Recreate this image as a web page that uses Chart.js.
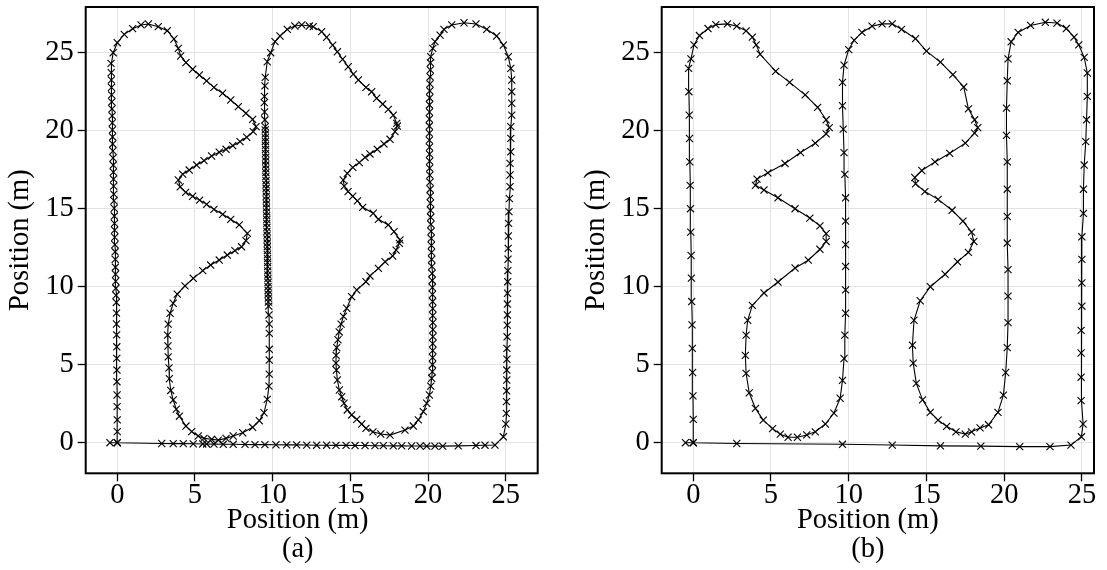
<!DOCTYPE html>
<html lang="en">
<head>
	<title>Trajectory (a) / (b)</title>
	<meta charset="utf-8">
	<script src="https://cdn.jsdelivr.net/npm/chart.js@4.4.0/dist/chart.umd.min.js"></script>
	<style type="text/css">
		body { margin: 0; background: #fff; }
		.panel { position: absolute; top: 0; height: 570px; }
		#panel-a { left: 0; width: 553px; }
		#panel-b { left: 576px; width: 531px; }
	</style>
</head>
<body>
<div class="panel" id="panel-a"><canvas id="chart-a"></canvas></div>
<div class="panel" id="panel-b"><canvas id="chart-b"></canvas></div>
<script type="text/javascript">
	// tick labels
	var xTicks = [0, 5, 10, 15, 20, 25];
	var yTicks = [0, 5, 10, 15, 20, 25];

	// (a) dense trajectory, in travel order
	var trackAX = [
		-0.47, 0.00, 0.00, 0.00, -0.01, -0.01, -0.02, -0.02, -0.03, -0.03, -0.04, -0.05, -0.05, -0.06,
		-0.08, -0.09, -0.10, -0.11, -0.12, -0.13, -0.14, -0.15, -0.16, -0.17, -0.18, -0.19, -0.20, -0.21, -0.22, -0.23, -0.24,
		-0.25, -0.26, -0.27, -0.28, -0.29, -0.30, -0.31, -0.32, -0.33, -0.34, -0.35, -0.36, -0.37, -0.38, -0.39, -0.40,
		-0.26, 0.00, 0.45, 0.99, 1.53, 2.00, 2.64, 3.22, 3.65, 3.93, 4.08, 4.42, 4.85, 5.28, 5.75, 6.22, 6.78, 7.30, 7.79, 8.28,
		8.71, 8.93, 8.75, 8.33, 7.90, 7.43, 7.00, 6.56, 6.07, 5.58, 5.11, 4.63, 4.21, 3.93,
		4.05, 4.40, 4.85, 5.30, 5.75, 6.22, 6.78, 7.30, 7.85, 8.37, 8.28, 8.00, 7.57, 7.08, 6.56, 6.01, 5.50, 4.89, 4.36, 3.86,
		3.60, 3.40, 3.28, 3.24, 3.26, 3.28, 3.33, 3.35, 3.44, 3.60, 3.80, 4.00, 4.42, 4.79, 5.21, 5.58, 6.07, 6.50, 7.00, 7.46,
		8.07, 8.71, 9.14, 9.44, 9.65, 9.76, 9.78, 9.78, 9.78, 9.78, 9.78, 9.76, 9.74,
		9.72, 9.72, 9.71, 9.71, 9.70, 9.70, 9.69, 9.69, 9.68, 9.68, 9.67, 9.67, 9.66, 9.66, 9.65, 9.65, 9.64, 9.64, 9.63, 9.63,
		9.62, 9.62, 9.61, 9.61, 9.60, 9.60, 9.59, 9.59, 9.58, 9.58, 9.57, 9.57, 9.56, 9.56, 9.56, 9.55, 9.55, 9.55, 9.54, 9.54,
		9.54, 9.53, 9.53, 9.53, 9.52, 9.52,
		9.50, 9.48, 9.46, 9.47, 9.50, 9.52, 9.65, 9.87, 10.15, 10.47, 10.94, 11.43, 11.87, 12.36, 12.61, 13.15, 13.47, 13.86, 14.16, 14.50,
		14.86, 15.19, 15.51, 16.00, 16.37, 16.69, 17.08, 17.44, 17.76, 17.98, 18.02, 17.87, 17.55, 17.16, 16.73, 16.26, 15.94, 15.57, 15.15, 14.80,
		14.54, 14.60, 14.85, 15.15, 15.45, 15.79, 16.47, 16.80, 17.44, 17.81, 18.19, 18.15, 17.94, 17.72, 17.23, 16.80, 16.26, 16.00, 15.41, 15.08,
		14.76, 14.55, 14.40, 14.28, 14.20, 14.12, 14.08, 14.07, 14.10, 14.16, 14.29, 14.44, 14.59, 14.80, 15.08, 15.41, 15.73, 16.00, 16.45, 16.95,
		17.55, 18.51, 19.05, 19.37, 19.69, 19.91, 20.08, 20.17, 20.23,
		20.27, 20.28, 20.29, 20.30, 20.30, 20.31, 20.31, 20.31, 20.30, 20.30, 20.29, 20.28, 20.27, 20.26, 20.25, 20.24, 20.23, 20.22, 20.21, 20.20,
		20.19, 20.18, 20.17, 20.16, 20.15, 20.14, 20.13, 20.12, 20.11, 20.10, 20.10, 20.09, 20.09, 20.08, 20.08, 20.08, 20.08, 20.09, 20.09, 20.10,
		20.11, 20.12, 20.13, 20.14, 20.15,
		20.17, 20.30, 20.44, 20.77, 21.02, 21.52, 22.31, 23.08, 23.77, 24.41, 24.84, 25.16, 25.32, 25.38, 25.38, 25.38, 25.38, 25.32, 25.32, 25.32,
		25.27, 25.27, 25.27, 25.23, 25.20, 25.18, 25.16, 25.15, 25.14, 25.13, 25.12, 25.11, 25.10, 25.10, 25.09, 25.08, 25.07, 25.07, 25.06, 25.06,
		25.05, 25.04, 25.03, 25.00, 24.84, 24.30, 23.66, 23.08,
		21.94, 20.94, 20.44, 19.91, 19.48, 18.94, 18.30, 17.76, 17.12, 16.58, 15.94, 15.30, 14.72, 14.07, 13.47, 12.83, 12.19, 11.54, 10.90, 10.21,
		9.50, 8.86, 8.22, 7.46, 6.82, 6.22, 5.75, 5.50, 4.89, 4.25, 3.60, 2.86, 0.00
	];
	var trackAY = [
		0.00, 0.00, 0.71, 1.46, 2.31, 3.06, 3.91, 4.66, 5.41, 6.15, 6.91, 7.61, 8.31, 8.99,
		9.45, 9.90, 10.35, 10.80, 11.25, 11.75, 12.24, 12.70, 13.17, 13.63, 14.06, 14.53, 15.03, 15.51, 15.94, 16.45, 16.90,
		17.35, 17.80, 18.25, 18.70, 19.15, 19.60, 20.05, 20.50, 20.95, 21.40, 21.85, 22.30, 22.78, 23.25, 23.72, 24.32,
		25.00, 25.64, 26.18, 26.54, 26.78, 26.84, 26.67, 26.41, 25.88, 25.28, 24.79, 24.36, 23.94, 23.57, 23.19, 22.78, 22.40, 21.97, 21.54, 21.12,
		20.73, 20.26, 19.94, 19.58, 19.30, 19.04, 18.81, 18.62, 18.38, 18.08, 17.80, 17.48, 17.22, 16.84,
		16.40, 16.05, 15.80, 15.55, 15.28, 14.96, 14.64, 14.32, 13.96, 13.42, 12.95, 12.56, 12.31, 12.03, 11.71, 11.39, 11.03, 10.54, 10.05, 9.53,
		8.94, 8.30, 7.60, 6.90, 6.20, 5.50, 4.80, 4.10, 3.35, 2.74, 2.15, 1.70, 1.07, 0.71, 0.43, 0.28, 0.22, 0.17, 0.28, 0.43,
		0.64, 0.99, 1.41, 1.92, 2.78, 3.63, 4.40, 5.30, 5.99, 7.01, 7.61, 8.19, 8.76,
		9.02, 9.27, 9.52, 9.76, 10.01, 10.27, 10.52, 10.76, 11.02, 11.29, 11.55, 11.80, 12.05, 12.31, 12.56, 12.80, 13.06, 13.31, 13.55, 13.80,
		14.06, 14.31, 14.56, 14.80, 15.05, 15.31, 15.56, 15.80, 16.06, 16.31, 16.55, 16.80, 17.06, 17.31, 17.55, 17.80, 18.06, 18.31, 18.55, 18.80,
		19.06, 19.31, 19.55, 19.80, 20.05, 20.26,
		20.70, 21.20, 21.80, 22.20, 22.87, 23.42, 24.42, 25.00, 25.71, 26.07, 26.50, 26.71, 26.78, 26.71, 26.67, 26.35, 25.99, 25.49, 25.06, 24.58,
		24.10, 23.63, 23.25, 22.78, 22.50, 22.08, 21.71, 21.37, 21.00, 20.47, 20.30, 19.94, 19.45, 19.15, 18.81, 18.51, 18.29, 17.95, 17.65, 17.27,
		16.84, 16.45, 16.10, 15.80, 15.50, 15.09, 14.71, 14.32, 13.96, 13.53, 13.00, 12.78, 12.35, 11.97, 11.60, 11.18, 10.69, 10.32, 9.79, 9.36,
		8.62, 8.10, 7.60, 7.10, 6.60, 6.10, 5.60, 5.10, 4.66, 4.02, 3.38, 2.95, 2.53, 2.10, 1.78, 1.50, 1.20, 0.92, 0.70, 0.56,
		0.49, 0.81, 1.07, 1.46, 1.99, 2.53, 3.06, 3.63, 4.13,
		4.55, 5.00, 5.45, 5.90, 6.35, 6.80, 7.25, 7.70, 8.15, 8.60, 9.05, 9.50, 9.95, 10.40, 10.85, 11.30, 11.75, 12.20, 12.65, 13.10,
		13.55, 14.00, 14.45, 14.90, 15.35, 15.80, 16.25, 16.70, 17.15, 17.60, 18.05, 18.50, 18.95, 19.40, 19.85, 20.30, 20.75, 21.20, 21.65, 22.10,
		22.55, 23.00, 23.45, 23.90, 24.35,
		24.74, 25.28, 25.71, 26.13, 26.50, 26.78, 26.92, 26.84, 26.50, 26.07, 25.49, 24.74, 24.00, 23.25, 22.50, 21.76, 21.00, 20.26, 19.51, 18.65,
		17.91, 17.16, 16.41, 15.65, 14.81, 14.06, 13.25, 12.46, 11.76, 11.03, 10.32, 9.58, 8.89, 8.19, 7.54, 6.79, 6.05, 5.35, 4.66, 4.02,
		3.33, 2.63, 1.88, 1.20, 0.38, -0.15, -0.16, -0.18,
		-0.20, -0.22, -0.22, -0.22, -0.21, -0.21, -0.20, -0.20, -0.19, -0.19, -0.18, -0.18, -0.17, -0.17, -0.16, -0.16, -0.15, -0.14, -0.14, -0.13,
		-0.12, -0.12, -0.11, -0.10, -0.10, -0.09, -0.08, -0.08, -0.07, -0.06, -0.06, -0.05, 0.00
	];

	// (b) sparse trajectory, in travel order
	var trackBX = [
		-0.50, 0.00, 0.00, -0.02, -0.04, -0.06, -0.08, -0.10, -0.12, -0.14, -0.16, -0.18, -0.20, -0.22, -0.24, -0.26, -0.28, -0.30,
		-0.15, 0.05, 0.40, 0.95, 1.45, 2.20, 2.80, 3.40, 3.80, 4.05, 4.30, 5.30, 6.20, 7.20, 8.00, 8.55, 8.75, 8.55, 7.85, 6.90,
		5.90, 4.80, 4.10, 4.00, 4.55, 5.45, 6.55, 7.50, 8.15, 8.55, 8.55, 8.15, 7.40, 6.55, 5.45, 4.55, 3.80, 3.50, 3.40, 3.35,
		3.40, 3.60, 4.00, 4.50, 5.10, 5.60, 6.10, 6.70, 7.30, 7.85, 8.50, 9.05, 9.45, 9.60, 9.70, 9.75, 9.80, 9.80, 9.80, 9.80,
		9.80, 9.80, 9.75, 9.70, 9.65, 9.60, 9.60, 9.70,
		10.00, 10.35, 10.85, 11.50, 12.15, 12.80, 13.40, 14.30, 15.00, 15.90, 16.70, 17.40, 17.70, 18.10, 18.30, 18.10, 17.50, 16.50, 15.55, 14.70,
		14.25, 14.30, 14.90, 15.75, 16.65, 17.35, 17.90, 18.05, 17.70, 17.00, 16.20, 15.25, 14.60, 14.20, 14.10, 14.15, 14.35, 14.75, 15.25, 15.75,
		16.30, 16.90, 17.50, 17.90, 18.45, 19.00, 19.60, 19.95, 20.10, 20.20, 20.25, 20.25, 20.25, 20.20, 20.20, 20.20, 20.20, 20.15, 20.15, 20.20,
		20.25, 20.45, 20.90, 21.70, 22.65, 23.40, 24.00, 24.50, 24.80, 25.15, 25.35, 25.35, 25.30, 25.25, 25.15, 25.10, 25.10, 25.00, 25.00, 25.00,
		25.00, 24.95, 24.95, 24.95, 24.95, 25.08, 24.97, 24.30, 22.95, 21.00, 18.50, 15.90, 12.80, 9.60, 2.80, 0.00
	];
	var trackBY = [
		0.00, 0.00, 1.50, 3.00, 4.50, 6.05, 7.55, 9.05, 10.55, 12.00, 13.50, 15.00, 16.50, 18.00, 19.50, 21.00, 22.50, 24.00,
		24.60, 25.50, 26.10, 26.55, 26.80, 26.85, 26.70, 26.40, 26.00, 25.50, 24.90, 23.80, 23.10, 22.30, 21.50, 20.70, 20.20, 19.80, 19.20, 18.60,
		17.90, 17.30, 16.90, 16.50, 16.20, 15.70, 15.00, 14.40, 13.90, 13.40, 12.90, 12.40, 11.70, 11.20, 10.30, 9.60, 8.80, 7.85, 6.90, 5.60,
		4.45, 3.20, 2.20, 1.45, 0.90, 0.55, 0.35, 0.35, 0.50, 0.70, 1.20, 1.90, 2.85, 4.00, 5.40, 6.90, 8.30, 9.80, 11.30, 12.70,
		14.20, 15.70, 17.20, 18.60, 20.10, 21.60, 23.10, 24.20,
		25.20, 25.80, 26.30, 26.70, 26.85, 26.85, 26.50, 25.90, 25.10, 24.40, 23.60, 22.80, 21.40, 20.70, 20.20, 19.85, 19.20, 18.55, 18.00, 17.45,
		17.00, 16.60, 16.10, 15.60, 14.90, 14.20, 13.50, 12.90, 12.20, 11.60, 10.80, 10.00, 9.10, 7.85, 6.25, 5.10, 3.80, 2.75, 1.95, 1.45,
		1.05, 0.70, 0.55, 0.70, 0.95, 1.15, 1.95, 3.05, 4.50, 6.10, 7.70, 9.40, 11.10, 12.80, 14.50, 16.25, 18.00, 19.70, 21.45, 23.20,
		24.60, 25.70, 26.30, 26.75, 26.95, 26.90, 26.55, 26.00, 25.50, 24.70, 23.70, 22.20, 20.70, 19.30, 17.80, 16.25, 14.70, 13.20, 11.75, 10.25,
		8.75, 7.20, 5.75, 4.20, 2.70, 1.20, 0.38, -0.15, -0.25, -0.25, -0.22, -0.20, -0.15, -0.10, -0.05, 0.00
	];

	var FONT = "'Liberation Serif', 'Times New Roman', serif";
	Chart.defaults.font.family = FONT;
	Chart.defaults.color = "#000";

	// black box round the plot area, then the x label and panel letter under it
	var framePlugin = {
		id: "frame",
		afterDraw: function(chart, args, opts) {
			var ctx = chart.ctx;
			var a = chart.chartArea;
			ctx.save();
			ctx.strokeStyle = "#000";
			ctx.lineWidth = 2;
			ctx.strokeRect(a.left, a.top, a.right - a.left, a.bottom - a.top);

			var cx = (a.left + a.right) / 2 + opts.shift;
			ctx.fillStyle = "#000";
			ctx.font = "28.5px " + FONT;
			ctx.textAlign = "center";
			ctx.textBaseline = "middle";
			ctx.fillText("Position (m)", cx, chart.height - 49);
			ctx.fillText(opts.letter, cx, chart.height - 20);
			ctx.restore();
		}
	};

	function toPoints(xs, ys) {
		var pts = [];
		for (var i = 0; i < xs.length; i++) {
			pts.push({x: xs[i], y: ys[i]});
		}
		return pts;
	}

	function drawTrack(canvasId, xs, ys, xMax, rightPad, letter, shift) {
		var ctx = document.getElementById(canvasId).getContext("2d");
		return new Chart(ctx, {
			type: "scatter",
			data: {
				datasets: [{
					data: toPoints(xs, ys),
					showLine: true,
					borderColor: "#000",
					borderWidth: 1.1,
					pointStyle: "crossRot",
					pointRadius: 5,
					pointBorderWidth: 1.1,
					pointBorderColor: "#000",
					pointBackgroundColor: "#000"
				}]
			},
			options: {
				responsive: true,
				maintainAspectRatio: false,
				animation: false,
				layout: { padding: { top: 7, right: rightPad, left: 0, bottom: 0 } },
				plugins: {
					legend: { display: false },
					tooltip: { enabled: false },
					frame: { letter: letter, shift: shift }
				},
				scales: {
					x: {
						type: "linear",
						min: -2.03,
						max: xMax,
						afterBuildTicks: function(s) { s.ticks = xTicks.map(function(v) { return {value: v}; }); },
						afterFit: function(s) { s.height = 96.7; s.paddingLeft = 0; s.paddingRight = 0; },
						border: { display: false },
						grid: { color: "#e3e3e3", lineWidth: 1, tickColor: "#000", tickLength: 8, tickWidth: 1.3 },
						ticks: { font: { size: 28.5, lineHeight: 1 }, padding: 0, maxRotation: 0 }
					},
					y: {
						type: "linear",
						min: -1.96,
						max: 27.93,
						afterBuildTicks: function(s) { s.ticks = yTicks.map(function(v) { return {value: v}; }); },
						afterFit: function(s) { s.width = 85.7; s.paddingTop = 0; s.paddingBottom = 0; },
						border: { display: false },
						grid: { color: "#e3e3e3", lineWidth: 1, tickColor: "#000", tickLength: 8, tickWidth: 1.3 },
						ticks: { font: { size: 28.5, lineHeight: 1 }, padding: 4 },
						title: {
							display: true,
							text: "Position (m)",
							font: { size: 28.5, lineHeight: 1 },
							padding: { top: 6, bottom: 0 }
						}
					}
				}
			},
			plugins: [framePlugin]
		});
	}

	drawTrack("chart-a", trackAX, trackAY, 27.05, 15.3, "(a)", -14);
	drawTrack("chart-b", trackBX, trackBY, 25.78, 13, "(b)", -10);
</script>
</body>
</html>
